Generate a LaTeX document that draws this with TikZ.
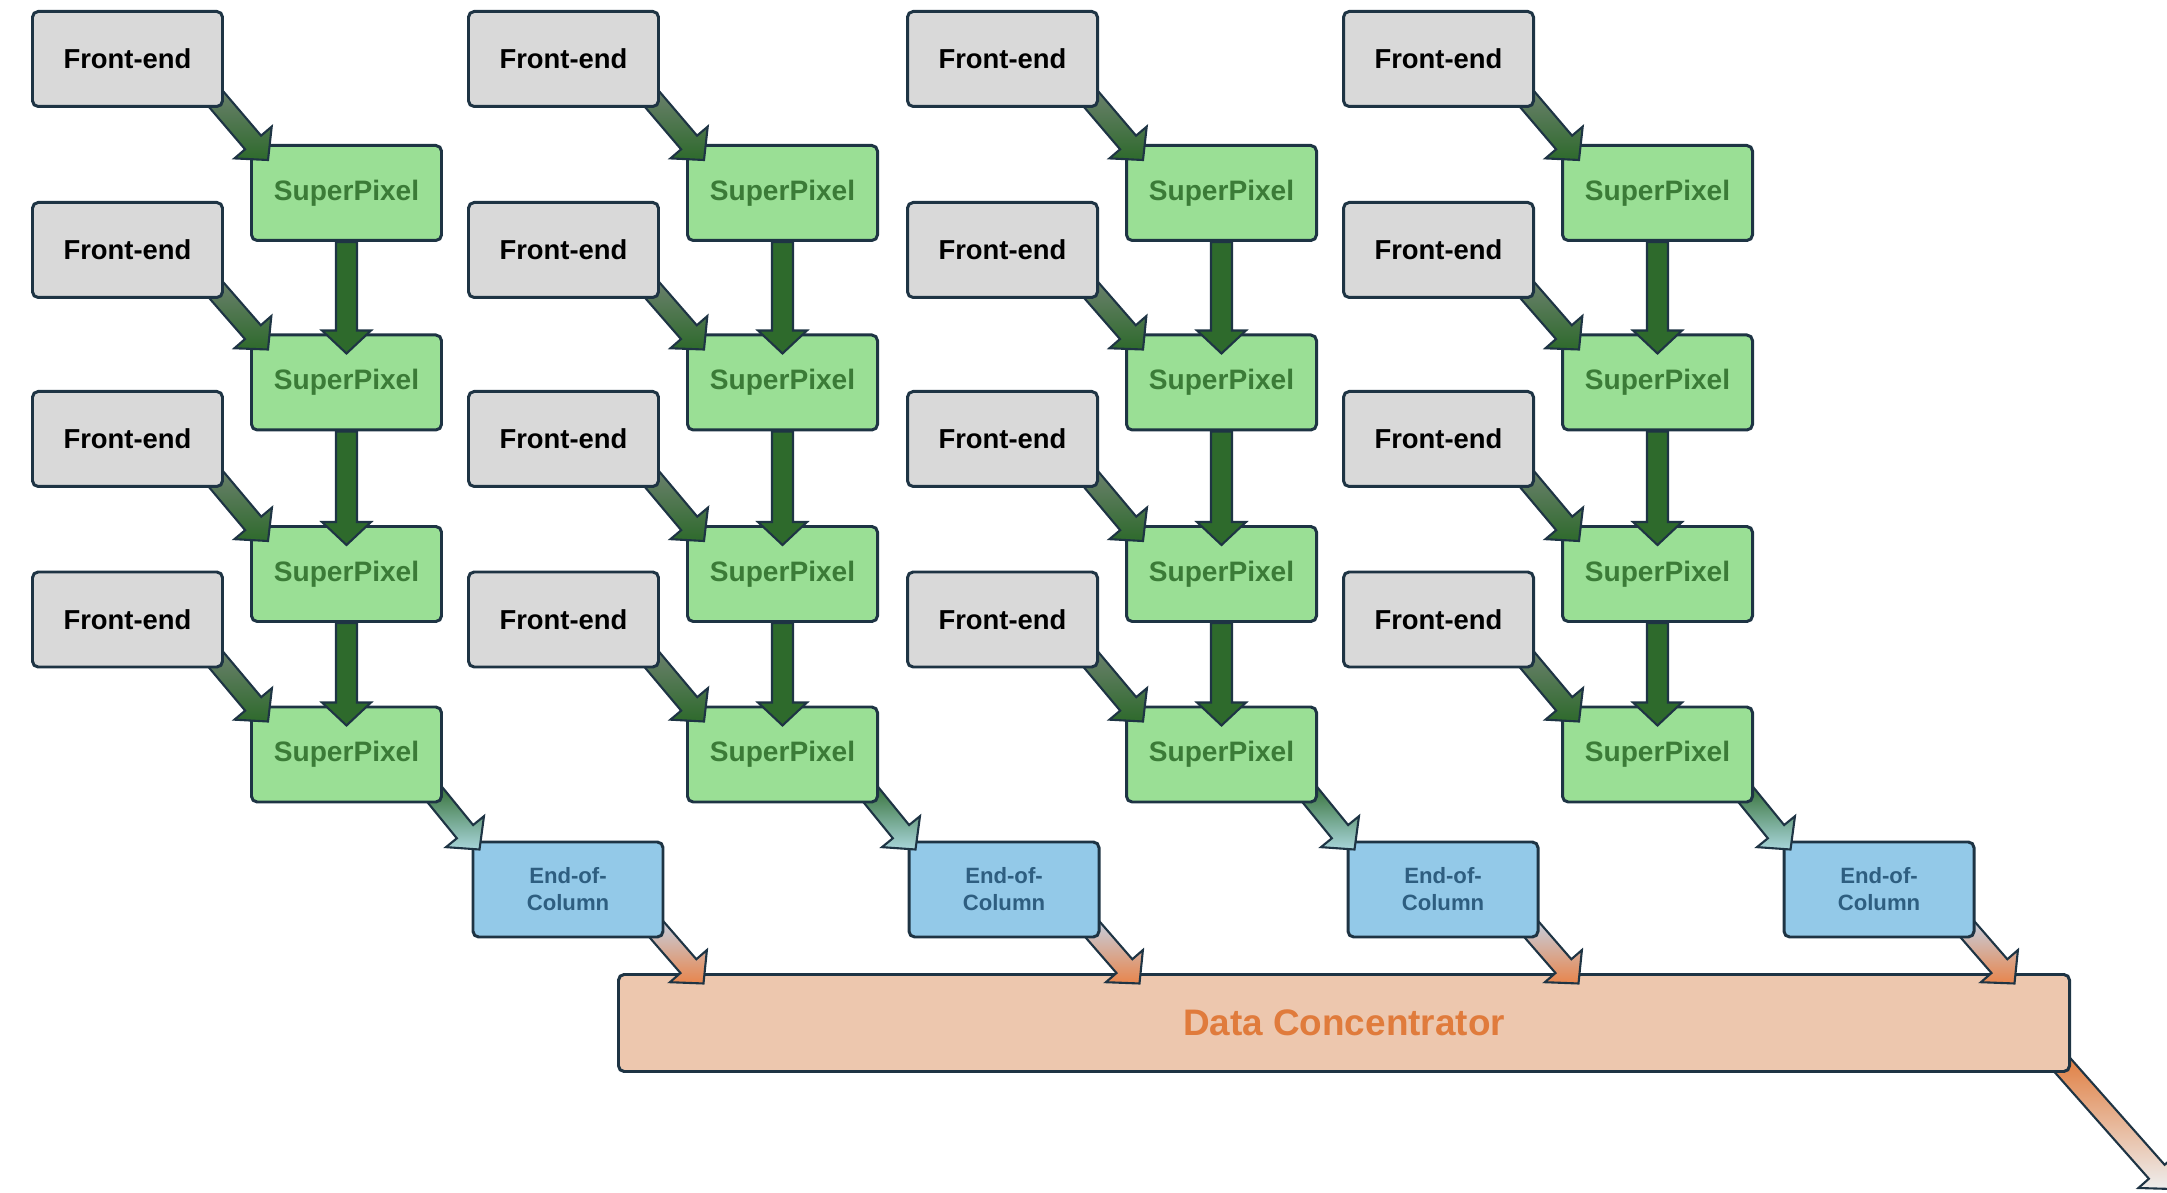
\documentclass[tikz,border=0pt]{standalone}
\usepackage{fontspec}
\setmainfont{Liberation Sans}
\usetikzlibrary{calc}
\definecolor{bd}{HTML}{1E3444}
\definecolor{fegray}{HTML}{D9D9D9}
\definecolor{spgreen}{HTML}{9ADF95}
\definecolor{sptext}{HTML}{3B7B37}
\definecolor{eocblue}{HTML}{93C9E8}
\definecolor{eoctext}{HTML}{2E5E80}
\definecolor{dcfill}{HTML}{EDC7AE}
\definecolor{dctext}{HTML}{E07B3C}
\definecolor{agreen}{HTML}{2E6A2C}
\definecolor{agray}{HTML}{6F8271}
\definecolor{acyan}{HTML}{A8D5DA}
\definecolor{alav}{HTML}{C3D5EA}
\definecolor{aorange}{HTML}{E8854C}
\definecolor{apale}{HTML}{EEEEEE}
\pgfdeclarelayer{l0}\pgfdeclarelayer{l1}\pgfdeclarelayer{l2}\pgfdeclarelayer{l3}
\pgfdeclarelayer{l4}\pgfdeclarelayer{l5}\pgfdeclarelayer{l6}
\pgfsetlayers{l0,l1,l2,l3,l4,l5,l6,main}
\tikzset{
  blk/.style={rectangle,rounded corners=1.6pt,draw=bd,line width=.85pt,inner sep=0pt,align=center},
  fe/.style={blk,fill=fegray,minimum width=1.9cm,minimum height=.95cm,font=\bfseries\fontsize{7.8}{9}\selectfont},
  sp/.style={blk,fill=spgreen,text=sptext,minimum width=1.9cm,minimum height=.95cm,font=\bfseries\fontsize{8}{9.6}\selectfont},
  eoc/.style={blk,fill=eocblue,text=eoctext,minimum width=1.9cm,minimum height=.95cm,font=\bfseries\fontsize{6.3}{7.7}\selectfont},
  dc/.style={blk,fill=dcfill,text=dctext,minimum width=14.51cm,minimum height=.97cm,font=\bfseries\fontsize{10.5}{12}\selectfont},
  % a block arrow: shaft and head as one outlined polygon
  fat/.style={draw=bd,line width=.6pt,to path={
    ($(\tikztostart)!.105cm!90:(\tikztotarget)$)
    -- ($($(\tikztotarget)!.23cm!(\tikztostart)$)!.105cm!90:(\tikztotarget)$)
    -- ($($(\tikztotarget)!.23cm!(\tikztostart)$)!.245cm!90:(\tikztotarget)$)
    -- (\tikztotarget)
    -- ($($(\tikztotarget)!.23cm!(\tikztostart)$)!.245cm!-90:(\tikztotarget)$)
    -- ($($(\tikztotarget)!.23cm!(\tikztostart)$)!.105cm!-90:(\tikztotarget)$)
    -- ($(\tikztostart)!.105cm!-90:(\tikztotarget)$) -- cycle}},
}
\begin{document}
\begin{tikzpicture}
\useasboundingbox (0,0) rectangle (21.67,-11.93);
% the concentrator at the bottom
\begin{pgfonlayer}{l1}
\node[dc] (D) at (13.44,-10.23) {Data Concentrator};
\end{pgfonlayer}
% four columns: front-ends, superpixels, end-of-column
\foreach \c/\dx in {1/0,2/4.36,3/8.75,4/13.11}{
  \begin{pgfonlayer}{l3}
  \node[eoc] (E\c) at (5.68+\dx,-8.895) {End-of-\\Column};
  \end{pgfonlayer}
  \foreach \r/\fy/\sy in {1/0.59/1.93,2/2.50/3.825,3/4.39/5.74,4/6.195/7.545}{
    \node[fe] (F\c\r) at (1.275+\dx,-\fy) {Front-end};
    \begin{pgfonlayer}{l5}
    \node[sp] (S\c\r) at (3.465+\dx,-\sy) {SuperPixel};
    \end{pgfonlayer}
  }
}
\coordinate (out) at ([shift={(1.01,-1.16)}]D.south east);
% arrows, each under its source box and over its target
\foreach \c in {1,...,4}{
  \begin{pgfonlayer}{l6}
  \foreach \r in {1,...,4}
    \draw[fat,top color=agray,bottom color=agreen]
      ([shift={(-0.14,0.16)}]F\c\r.south east) to ([shift={(0.18,-0.16)}]S\c\r.north west);
  \foreach \r/\n in {1/2,2/3,3/4}
    \draw[fat,fill=agreen] (S\c\r.south) to ([yshift=-0.2cm]S\c\n.north);
  \end{pgfonlayer}
  \begin{pgfonlayer}{l4}
  \draw[fat,top color=agreen,bottom color=acyan]
    ([shift={(-0.14,0.16)}]S\c4.south east) to ([shift={(0.08,-0.09)}]E\c.north west);
  \end{pgfonlayer}
  \begin{pgfonlayer}{l2}
  \draw[fat,top color=alav,bottom color=aorange]
    ([shift={(-0.14,0.16)}]E\c.south east) to ([shift={(0.39,-0.45)}]E\c.south east);
  \end{pgfonlayer}
}
\begin{pgfonlayer}{l0}
\draw[fat,top color=dctext,bottom color=apale]
  ([shift={(-0.14,0.14)}]D.south east) to (out);
\end{pgfonlayer}
\end{tikzpicture}
\end{document}
